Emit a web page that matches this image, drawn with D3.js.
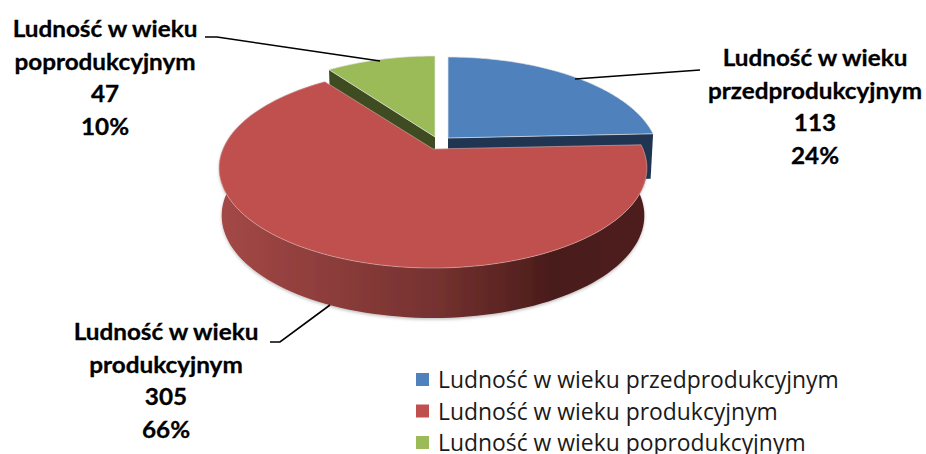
<!DOCTYPE html>
<html><head><meta charset="utf-8">
<script src="https://cdn.jsdelivr.net/npm/d3@7"></script>
<style>html,body{margin:0;background:#fff}svg{display:block}</style></head>
<body><svg id="c" width="926" height="454"></svg>
<script>
const categories=["Ludność w wieku przedprodukcyjnym","Ludność w wieku produkcyjnym","Ludność w wieku poprodukcyjnym"];
const values=[113,305,47];
const percents=["24%","66%","10%"];
const topColors=["#4f81bd","#c0504d","#9bbb59"];
const sideColors=["#1f3552","#7a2f2d","#3f4c22"];
const labelLines=[["Ludność w wieku","przedprodukcyjnym"],["Ludność w wieku","produkcyjnym"],["Ludność w wieku","poprodukcyjnym"]];
const centers=[[448,138],[433,149],[435,137]];
const radii=[207,210,206];
const depths=[48,50,44];
const labelPos=[[815,66],[166,340],[105,37]];
const leaders=[[[700,70],[575,79]],[[270,342],[280,342],[330,305]],[[205,37],[217,37],[380,61]]];
const legendBaselines=[388,419.5,451];

const svg=d3.select("#c"), defs=svg.append("defs");
const g=defs.append("linearGradient").attr("id","rw").attr("gradientUnits","userSpaceOnUse").attr("x1",222).attr("x2",645).attr("y1",0).attr("y2",0);
[[0,"#a34846"],[.5,"#763230"],[.78,"#4a1c1a"],[1,"#4f1f1d"]].forEach(s=>g.append("stop").attr("offset",s[0]).attr("stop-color",s[1]));
const f=defs.append("filter").attr("id","sh").attr("x","-5%").attr("y","-5%").attr("width","110%").attr("height","115%");
f.append("feDropShadow").attr("dx",0).attr("dy",1.5).attr("stdDeviation",1.5).attr("flood-color","#000").attr("flood-opacity",.25);

const arcs=d3.pie().sort(null).startAngle(0).endAngle(2*Math.PI)(values);
const b=0.19,a=96.4;
function proj(i,th,r,z){const u=Math.sin(th)*r,v=-Math.cos(th)*r,w=1-b*v;
  const s=1-0.012*z; return [centers[i][0]+radii[i]*s*u/w, centers[i][1]+a*v/w+z*depths[i]*(0.88+0.12*(v+1)/2)];}
const line=d3.line();
function arcPts(i,d,z){return d3.range(0,121).map(k=>proj(i,d.startAngle+(d.endAngle-d.startAngle)*k/120,1,z));}
function wedge(i,d){return line([proj(i,0,0,0),...arcPts(i,d,0)])+"Z";}

function cutWall(i,th){return line([proj(i,0,0,0),proj(i,th,1,0),proj(i,th,1,1),proj(i,0,0,1)])+"Z";}
svg.append("path").attr("d",cutWall(2,arcs[2].startAngle)).attr("fill",sideColors[2]);
svg.append("path").attr("d",cutWall(0,arcs[0].endAngle)).attr("fill",sideColors[0]);
[2,0].forEach(i=>svg.append("path").attr("d",wedge(i,arcs[i])).attr("fill",topColors[i]).attr("stroke","#e4e4e4").attr("stroke-width",.7));
const rTop=arcPts(1,arcs[1],0), rBot=arcPts(1,arcs[1],1).reverse();
svg.append("path").attr("d",line([...rTop,...rBot])+"Z").attr("fill","url(#rw)").attr("filter","url(#sh)");
svg.append("path").attr("d",wedge(1,arcs[1])).attr("fill",topColors[1]).attr("stroke","#d8b0ae").attr("stroke-width",.6);

leaders.forEach(l=>svg.append("path").attr("d",line(l)).attr("fill","none").attr("stroke","#000").attr("stroke-width",1.6));

labelLines.forEach((ls,i)=>{
  [...ls,String(values[i]),percents[i]].forEach((t,j)=>{
    svg.append("g").attr("transform",`translate(${labelPos[i][0]},${labelPos[i][1]+j*32.5}) scale(1.08,1)`)
    .append("text").text(t).attr("text-anchor","middle")
    .attr("font-family","Lato").attr("font-weight",700).attr("font-size",22.5).attr("fill","#000").attr("stroke","#000").attr("stroke-width",.3);
  });
});
categories.forEach((c,i)=>{
  svg.append("rect").attr("x",416).attr("y",legendBaselines[i]-15).attr("width",13).attr("height",13).attr("fill",topColors[i]);
  svg.append("text").text(c).attr("x",438).attr("y",legendBaselines[i]).attr("font-family","Open Sans").attr("font-size",22.9).attr("fill","#1a1a1a");
});
</script></body></html>
